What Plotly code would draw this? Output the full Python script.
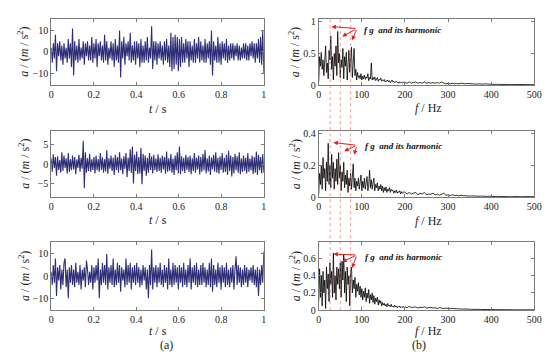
import numpy as np
import plotly.graph_objects as go
from plotly.subplots import make_subplots

# ---------------- data ----------------
acc1 = [2, -5, 4, -3, 8, -9, 4, -2, 5, -4, 3, -6, 4, -3, 2, -5, 6, -3, 4, -7,
        11, -11, 5, -4, 3, -5, 6, -4, 2, -3, 5, -6, 4, -2, 5, -4, 3, -4, 7, -5,
        4, -3, 6, -7, 4, -2, 5, -4, 3, -5, 8, -4, 5, -6, 2, -3, 5, -4, 4, -7,
        6, -4, 3, -5, 10, -12, 5, -3, 7, -6, 4, -2, 5, -4, 9, -5, 3, -4, 5, -6,
        5, -3, 4, -7, 6, -5, 3, -5, 5, -4, 7, -5, 2, -3, 12, -8, 5, -4, 5, -6,
        4, -3, 5, -4, 3, -6, 5, -4, 6, -5, 3, -7, 9, -9, 7, -8, 8, -6, 7, -9,
        6, -7, 7, -5, 4, -5, 6, -3, 5, -7, 5, -4, 3, -5, 6, -5, 4, -3, 7, -5,
        5, -4, 3, -5, 6, -5, 4, -3, 5, -6, 10, -11, 5, -4, 3, -5, 7, -5, 4, -6,
        5, -3, 4, -4, 6, -5, 3, -4, 4, -3, 4, -4, 3, -2, 4, -4, 3, -4, 2, -3,
        4, -3, 4, -4, 3, -4, 4, -2, 5, -3, 4, -5, 4, -3, 6, -5, 7, -6, 10, -10]

acc2 = [1.5, -2, 2.5, -1, 1.8, -3, 2, -1.5, 1, -2.2, 3, -1.8, 2.2, -1, 1.5, -2.5, 2.8, -2, 1.2, -1.6,
        2.2, -1.4, 1.8, -2.6, 1.2, -1, 2.4, -2, 1.6, -1.2, 6, -6.2, 3, -2.2, 1.5, -1.8, 2.6, -2, 1.2, -1.5,
        1.8, -2.4, 2.2, -1.6, 1.3, -2, 2.8, -1.5, 1.7, -2.2, 1.2, -1.9, 3.5, -2.5, 1.5, -1.2, 2.2, -1.8, 1.6, -2.8,
        2.4, -1.5, 1.8, -2.2, 3, -1.6, 1.4, -2.6, 2, -1.2, 2.8, -3.4, 1.6, -1.8, 3.8, -2.2, 4.5, -5, 2.4, -1.8,
        3.2, -2.6, 1.8, -2.4, 4.2, -5.2, 2.6, -1.8, 2.2, -3, 1.6, -2.2, 2.8, -1.5, 1.9, -2.4, 2.4, -1.6, 1.4, -2,
        2.5, -1.8, 1.6, -2.2, 2.2, -1.4, 1.8, -2.5, 3.2, -2, 1.5, -1.7, 2.6, -2.2, 1.4, -2.8, 2.2, -1.6, 3, -2.4,
        4.5, -2.6, 2, -1.8, 1.6, -2.3, 2.4, -1.5, 1.8, -2, 2.2, -2.6, 1.5, -1.8, 2.8, -2.2, 1.6, -1.4, 2.2, -2.6,
        1.8, -2, 2.6, -1.6, 3.6, -2.4, 1.5, -1.9, 2.2, -2.8, 1.7, -1.4, 2.4, -2, 3, -2.2, 1.6, -2.5, 2, -1.5,
        2.8, -2.2, 1.6, -2, 2.4, -2.8, 3.4, -1.8, 2.2, -3.2, 1.8, -2.4, 2.6, -1.6, 2, -2.2, 3, -2.6, 1.5, -2,
        2.2, -1.8, 1.6, -2.4, 2.8, -2, 1.4, -1.6, 2.2, -2.6, 1.8, -2.2, 3.2, -2.8, 2.4, -1.6, 1.8, -2.4, 2.6, -2.2]

acc3 = [2, -4, 5, -3, 8, -9, 4, -2, 5, -6, 3, -4, 6, 8, -5, 3, -10, 4, -3, 5,
        -4, 3, -5, 6, -3, 2, -4, 5, -6, 3, -2, 4, -5, 7, 3, -4, 2, -3, 5, -6,
        4, -3, 5, -2, 8, -10, 3, -4, 6, -3, 5, -4, 10, -6, 4, -3, 5, -4, 8, -5,
        3, -4, 6, -3, 5, -7, 4, -2, 3, -5, 8, -4, 5, -3, 6, -6, 4, -3, 5, -4,
        6, -3, 4, -5, 3, -4, 5, -2, 4, -6, 3, -10, 5, -4, 12, -6, 4, -3, 5, -5,
        4, -3, 6, -4, 3, -5, 5, -3, 4, -6, 8, -4, 3, -5, 6, -4, 5, -3, 4, -6,
        5, -3, 4, -5, 6, -4, 3, -5, 5, -3, 8, -6, 4, -3, 5, -4, 6, -5, 3, -4,
        5, -4, 6, -3, 4, -5, 3, -4, 6, -5, 8, -7, 5, -4, 3, -5, 6, -3, 4, -6,
        5, -3, 4, -5, 6, -4, 3, -5, 4, -3, 5, -6, 3, 9, -4, 5, -3, 4, -5, 3,
        -4, 5, -3, 4, -5, 3, -2, 4, -3, 5, -4, 3, -5, 4, -9, 3, -4, 5, -3, 11]

t = np.linspace(0, 1, len(acc1))

freq = list(range(0, 200, 2)) + list(range(200, 505, 5))

spec1 = [0.05, 0.45, 0.30, 0.52, 0.25, 0.40, 0.15, 0.48, 0.62, 0.20,
         0.35, 0.10, 0.55, 0.40, 0.78, 0.25, 0.45, 0.08, 0.50, 0.30,
         0.62, 0.15, 0.85, 0.35, 0.50, 0.12, 0.40, 0.28, 0.58, 0.10,
         0.45, 0.30, 0.52, 0.08, 0.40, 0.55, 0.20, 0.35, 0.60, 0.12,
         0.30, 0.58, 0.15, 0.25, 0.08, 0.20, 0.12, 0.15, 0.10, 0.18,
         0.08, 0.14, 0.10, 0.16, 0.09, 0.13, 0.11, 0.18, 0.07, 0.12,
         0.10, 0.35, 0.08, 0.12, 0.09, 0.13, 0.07, 0.10, 0.12, 0.06,
         0.09, 0.08, 0.11, 0.06, 0.08, 0.07, 0.09, 0.05, 0.07, 0.06,
         0.08, 0.05, 0.07, 0.04, 0.06, 0.08, 0.05, 0.06, 0.04, 0.05,
         0.06, 0.04, 0.05, 0.03, 0.05, 0.04, 0.05, 0.03, 0.04, 0.05,
         0.04, 0.03, 0.05, 0.03, 0.04, 0.05, 0.03, 0.04, 0.03, 0.05,
         0.03, 0.04, 0.03, 0.04, 0.03, 0.04, 0.03, 0.05, 0.03, 0.02,
         0.03, 0.02, 0.03, 0.02, 0.025, 0.02, 0.03, 0.02, 0.02, 0.025,
         0.02, 0.015, 0.02, 0.015, 0.02, 0.015, 0.015, 0.02, 0.012, 0.015,
         0.012, 0.015, 0.01, 0.012, 0.01, 0.012, 0.01, 0.01, 0.012, 0.01,
         0.008, 0.01, 0.008, 0.01, 0.008, 0.008, 0.01, 0.007, 0.008, 0.007,
         0.006]

spec2 = [0.02, 0.15, 0.08, 0.20, 0.05, 0.25, 0.12, 0.18, 0.04, 0.22,
         0.10, 0.34, 0.08, 0.20, 0.06, 0.27, 0.12, 0.22, 0.05, 0.18,
         0.10, 0.24, 0.08, 0.28, 0.12, 0.20, 0.04, 0.16, 0.10, 0.22,
         0.06, 0.14, 0.08, 0.17, 0.03, 0.12, 0.07, 0.15, 0.05, 0.13,
         0.21, 0.06, 0.12, 0.04, 0.10, 0.07, 0.12, 0.05, 0.09, 0.14,
         0.04, 0.10, 0.06, 0.12, 0.05, 0.09, 0.13, 0.04, 0.08, 0.17,
         0.06, 0.11, 0.05, 0.09, 0.12, 0.04, 0.08, 0.06, 0.09, 0.04,
         0.07, 0.05, 0.08, 0.04, 0.07, 0.03, 0.06, 0.04, 0.065, 0.03,
         0.05, 0.04, 0.06, 0.03, 0.05, 0.04, 0.045, 0.025, 0.04, 0.03,
         0.045, 0.025, 0.035, 0.03, 0.04, 0.02, 0.035, 0.025, 0.03, 0.035,
         0.03, 0.02, 0.03, 0.02, 0.025, 0.03, 0.015, 0.025, 0.02, 0.03,
         0.015, 0.02, 0.018, 0.025, 0.015, 0.02, 0.012, 0.02, 0.025, 0.012,
         0.015, 0.01, 0.015, 0.01, 0.012, 0.008, 0.012, 0.01, 0.008, 0.01,
         0.007, 0.008, 0.006, 0.008, 0.006, 0.007, 0.005, 0.006, 0.005, 0.006,
         0.004, 0.005, 0.004, 0.005, 0.004, 0.004, 0.005, 0.003, 0.004, 0.003,
         0.004, 0.003, 0.004, 0.003, 0.003, 0.004, 0.003, 0.003, 0.002, 0.003,
         0.003]

spec3 = [0.10, 0.48, 0.15, 0.40, 0.05, 0.45, 0.20, 0.35, 0.02, 0.50,
         0.25, 0.42, 0.10, 0.55, 0.30, 0.45, 0.15, 0.66, 0.20, 0.40,
         0.12, 0.50, 0.30, 0.48, 0.25, 0.55, 0.15, 0.57, 0.35, 0.65,
         0.20, 0.45, 0.10, 0.50, 0.30, 0.40, 0.05, 0.45, 0.50, 0.20,
         0.35, 0.25, 0.38, 0.15, 0.30, 0.22, 0.32, 0.18, 0.28, 0.15,
         0.25, 0.12, 0.22, 0.15, 0.26, 0.10, 0.20, 0.14, 0.24, 0.08,
         0.18, 0.12, 0.20, 0.09, 0.17, 0.07, 0.14, 0.10, 0.15, 0.06,
         0.12, 0.08, 0.11, 0.05, 0.09, 0.06, 0.08, 0.05, 0.07, 0.04,
         0.08, 0.05, 0.06, 0.04, 0.07, 0.04, 0.05, 0.035, 0.06, 0.04,
         0.05, 0.03, 0.045, 0.035, 0.05, 0.03, 0.04, 0.03, 0.045, 0.03,
         0.04, 0.03, 0.045, 0.03, 0.035, 0.04, 0.025, 0.035, 0.03, 0.04,
         0.025, 0.03, 0.035, 0.025, 0.03, 0.02, 0.03, 0.025, 0.02, 0.025,
         0.02, 0.018, 0.02, 0.015, 0.018, 0.015, 0.016, 0.012, 0.015, 0.012,
         0.013, 0.01, 0.012, 0.01, 0.011, 0.009, 0.01, 0.008, 0.01, 0.008,
         0.009, 0.007, 0.008, 0.007, 0.008, 0.006, 0.007, 0.006, 0.007, 0.005,
         0.006, 0.005, 0.006, 0.005, 0.005, 0.006, 0.004, 0.005, 0.004, 0.005,
         0.004]

harmonics = [26.5, 50, 74]
note_text = "f g  and its harmonic"

# ---------------- figure ----------------
FONT = "'Liberation Serif', 'Times New Roman', serif"
fig = make_subplots(rows=3, cols=2)

blue = "rgb(45,45,120)"
for r, acc in enumerate([acc1, acc2, acc3], start=1):
    fig.add_trace(go.Scatter(x=t, y=acc, mode="lines",
                             line=dict(color=blue, width=1.1)), row=r, col=1)
for r, sp in enumerate([spec1, spec2, spec3], start=1):
    fig.add_trace(go.Scatter(x=freq, y=sp, mode="lines",
                             line=dict(color="black", width=0.8)), row=r, col=2)

W, H = 550, 357
def px2y(py):
    return 1 - py / H

left_dom = [41 / W, 258 / W]
right_dom = [314 / W, 534 / W]
rows_px = [(8, 76), (123, 191), (237, 307)]
xtitle_left_px = [101, 214, 328]
xtitle_right_px = [100, 215, 328]

axis_common = dict(showgrid=False, zeroline=False, showline=True, linecolor="#7a7a7a",
                   linewidth=1, mirror="ticks", ticks="inside", ticklen=3, tickcolor="#7a7a7a",
                   tickfont=dict(family=FONT, size=10, color="#222"))

yranges_left = [[-15.5, 15.5], [-8.5, 8.5], [-15.4, 15.4]]
ytick_left = [[-10, 0, 10], [-5, 0, 5], [-10, 0, 10]]
yranges_right = [[0, 1.05], [0, 0.418], [0, 0.79]]
ytick_right = [[0, 0.5, 1], [0, 0.2, 0.4], [0, 0.2, 0.4, 0.6]]

for i, (top, bot) in enumerate(rows_px):
    ydom = [px2y(bot), px2y(top)]
    nl = 2 * i + 1
    nr = 2 * i + 2
    def key(a, n):
        return a + ("axis" if n == 1 else "axis%d" % n)
    fig.layout[key("x", nl)].update(domain=left_dom, range=[0, 1],
                                    tickvals=[0, 0.2, 0.4, 0.6, 0.8, 1],
                                    ticktext=["0", "0.2", "0.4", "0.6", "0.8", "1"], **axis_common)
    fig.layout[key("y", nl)].update(domain=ydom, range=yranges_left[i],
                                    tickvals=ytick_left[i], **axis_common)
    fig.layout[key("x", nr)].update(domain=right_dom, range=[0, 500],
                                    tickvals=[0, 100, 200, 300, 400, 500], **axis_common)
    fig.layout[key("y", nr)].update(domain=ydom, range=yranges_right[i],
                                    tickvals=ytick_right[i],
                                    ticktext=[("%g" % v) for v in ytick_right[i]], **axis_common)

annotations = []
ytitle = "<i>a</i> / (<i>m</i> / s<sup>2</sup>)"
tfont = dict(family=FONT, size=12, color="#222")
for i, (top, bot) in enumerate(rows_px):
    yc = px2y((top + bot) / 2)
    annotations.append(dict(text=ytitle, x=13 / W, y=yc, xref="paper", yref="paper",
                            textangle=-90, showarrow=False, xanchor="center", yanchor="middle",
                            font=tfont))
    annotations.append(dict(text=ytitle, x=290 / W, y=yc, xref="paper", yref="paper",
                            textangle=-90, showarrow=False, xanchor="center", yanchor="middle",
                            font=tfont))
    annotations.append(dict(text="<i>t</i> / s", x=150 / W, y=px2y(xtitle_left_px[i]),
                            xref="paper", yref="paper", showarrow=False,
                            xanchor="center", yanchor="middle", font=tfont))
    annotations.append(dict(text="<i>f</i> / Hz", x=426 / W, y=px2y(xtitle_right_px[i]),
                            xref="paper", yref="paper", showarrow=False,
                            xanchor="center", yanchor="middle", font=tfont))

annotations.append(dict(text="(a)", x=150 / W, y=px2y(343), xref="paper", yref="paper",
                        showarrow=False, yanchor="middle", font=tfont))
annotations.append(dict(text="(b)", x=426 / W, y=px2y(343), xref="paper", yref="paper",
                        showarrow=False, yanchor="middle", font=tfont))

# arrow groups: (axis suffix, tail (x,y), heads, text pos)
red = "#e02020"
groups = [
    ("2", (88.6, 0.895), [(29.5, 0.926), (54.5, 0.77), (77.3, 0.71)], (100, 0.88)),
    ("4", (88.6, 0.327), [(34, 0.345), (59, 0.29), (82, 0.267)], (102, 0.32)),
    ("6", (88.6, 0.64), [(34, 0.65), (54.5, 0.56), (77.3, 0.49)], (102, 0.617)),
]
for suf, tail, heads, tpos in groups:
    for hx, hy in heads:
        annotations.append(dict(x=hx, y=hy, ax=tail[0], ay=tail[1], xref="x" + suf, yref="y" + suf,
                                axref="x" + suf, ayref="y" + suf, text="", showarrow=True,
                                arrowhead=2, arrowsize=0.9, arrowwidth=1, arrowcolor=red))
    annotations.append(dict(x=tpos[0], y=tpos[1], xref="x" + suf, yref="y" + suf,
                            text="<b><i>" + note_text + "</i></b>", showarrow=False,
                            xanchor="left", yanchor="middle",
                            font=dict(family=FONT, size=9, color="#111")))

shapes = []
for h in harmonics:
    shapes.append(dict(type="line", xref="x2", yref="paper", x0=h, x1=h,
                       y0=px2y(307), y1=px2y(6),
                       line=dict(color="#e87070", width=0.7, dash="dot")))

fig.update_layout(width=W, height=H, margin=dict(l=0, r=0, t=0, b=0),
                  paper_bgcolor="white", plot_bgcolor="white", showlegend=False,
                  annotations=annotations, shapes=shapes)

fig.write_html("out.html")
